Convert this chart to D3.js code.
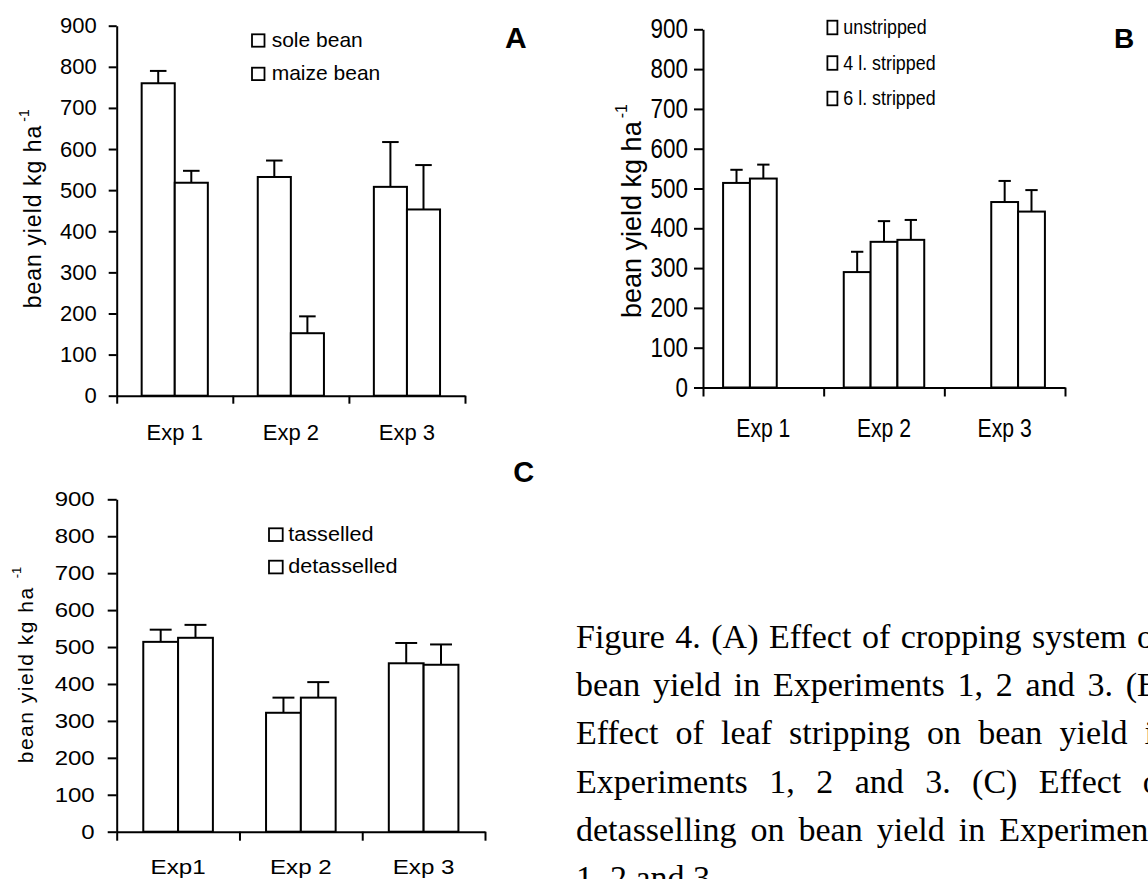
<!DOCTYPE html>
<html>
<head>
<meta charset="utf-8">
<script src="https://cdn.jsdelivr.net/npm/d3@7"></script>
<style>
  html, body { margin: 0; padding: 0; background: #fff; }
  svg { display: block; }
  text { font-family: "Liberation Sans", Arial, sans-serif; fill: #000; }
  .cap { font-family: "Liberation Serif", "Times New Roman", serif; }
</style>
</head>
<body>
<script>
// ---------------- DATA ----------------
const yTicks = [0, 100, 200, 300, 400, 500, 600, 700, 800, 900];

// Panel A: cropping system
const categoriesA = ["Exp 1", "Exp 2", "Exp 3"];
const seriesA = ["sole bean", "maize bean"];
const soleBean = [760, 532, 508];
const soleBeanErr = [30, 40, 109];
const maizeBean = [518, 152, 453];
const maizeBeanErr = [29, 41, 108];

// Panel B: leaf stripping
const categoriesB = ["Exp 1", "Exp 2", "Exp 3"];
const seriesB = ["unstripped", "4 l. stripped", "6 l. stripped"];
const unstripped = [514, 290, null];
const unstrippedErr = [33, 51, null];
const stripped4 = [525, 366, 466];
const stripped4Err = [35, 52, 53];
const stripped6 = [null, 371, 442];
const stripped6Err = [null, 50, 54];

// Panel C: detasselling
const categoriesC = ["Exp1", "Exp 2", "Exp 3"];
const seriesC = ["tasselled", "detasselled"];
const tasselled = [514, 322, 456];
const tasselledErr = [33, 41, 55];
const detasselled = [525, 363, 452];
const detasselledErr = [35, 42, 55];

const yLabel = "bean yield kg ha";
const yLabelSup = "-1";

const captionLines = [
  "Figure 4. (A) Effect of cropping system on",
  "bean yield in Experiments 1, 2 and 3. (B)",
  "Effect of leaf stripping on bean yield in",
  "Experiments 1, 2 and 3. (C) Effect of",
  "detasselling on bean yield in Experiments",
  "1, 2 and 3."
];

// ---------------- LAYOUT ----------------
const W = 1148, H = 879;
const svg = d3.select("body").append("svg").attr("width", W).attr("height", H);

function fit(sel, factor) {
  sel.each(function () {
    const w = this.getComputedTextLength();
    this.setAttribute("textLength", (w * factor).toFixed(2));
    this.setAttribute("lengthAdjust", "spacingAndGlyphs");
  });
}

function panel(cfg) {
  const g = svg.append("g");
  const x0 = d3.scaleBand().domain(cfg.categories).range(cfg.xRange).padding(0);
  const y = d3.scaleLinear().domain([0, 900]).range(cfg.yRange);
  const groupW = x0.bandwidth() * cfg.groupFrac;
  const x1 = d3.scaleBand().domain(cfg.series).range([0, groupW]).padding(0);

  // bars
  cfg.series.forEach((s, si) => {
    const vals = cfg.values[si], errs = cfg.errors[si];
    cfg.categories.forEach((c, ci) => {
      const v = vals[ci];
      if (v == null) return;
      const bx = x0(c) + (x0.bandwidth() - groupW) / 2 + x1(s);
      g.append("rect")
        .attr("x", bx).attr("y", y(v))
        .attr("width", x1.bandwidth()).attr("height", y(0) - y(v))
        .attr("fill", "#fff").attr("stroke", "#000").attr("stroke-width", 2);
      const e = errs[ci];
      const cx = bx + x1.bandwidth() / 2;
      const capW = x1.bandwidth() * cfg.capFrac;
      g.append("line").attr("x1", cx).attr("x2", cx)
        .attr("y1", y(v)).attr("y2", y(v + e))
        .attr("stroke", "#000").attr("stroke-width", 2);
      g.append("line").attr("x1", cx - capW / 2).attr("x2", cx + capW / 2)
        .attr("y1", y(v + e)).attr("y2", y(v + e))
        .attr("stroke", "#000").attr("stroke-width", 2);
    });
  });

  // y axis
  const ya = g.append("g").attr("transform", `translate(${cfg.xRange[0]},0)`)
    .call(d3.axisLeft(y).tickValues(yTicks).tickSize(cfg.tickSize).tickSizeOuter(0).tickPadding(cfg.tickPad));
  ya.selectAll("path,line").attr("stroke", "#000").attr("stroke-width", 2);
  ya.selectAll("text").attr("font-size", cfg.tickFont).style("font-family", "Liberation Sans, Arial, sans-serif").attr("fill", "#000");
  fit(ya.selectAll("text"), cfg.tickStretch);

  // x axis with boundary ticks
  const xb = d3.scaleLinear().domain([0, cfg.categories.length]).range(cfg.xRange);
  const xa = g.append("g").attr("transform", `translate(0,${cfg.yRange[0]})`)
    .call(d3.axisBottom(xb).ticks(cfg.categories.length).tickSize(cfg.tickSize).tickSizeOuter(0).tickFormat(""));
  xa.selectAll("path,line").attr("stroke", "#000").attr("stroke-width", 2);

  // category labels
  const xl = g.selectAll(".xl").data(cfg.categories).enter().append("text")
    .attr("x", d => x0(d) + x0.bandwidth() / 2)
    .attr("y", cfg.yRange[0] + cfg.xLabelOffset)
    .attr("text-anchor", "middle")
    .attr("font-size", cfg.xFont)
    .text(d => d);
  fit(xl, cfg.xStretch);

  // y label
  const yl = g.append("text")
    .attr("transform", `translate(${cfg.yLabelPos[0]},${cfg.yLabelPos[1]}) rotate(-90)`)
    .attr("font-size", cfg.yLabelFont)
    .attr("letter-spacing", cfg.yLabelSpacing);
  yl.append("tspan").text(yLabel);
  yl.append("tspan").attr("font-size", cfg.supFont).attr("dx", cfg.supDx).attr("dy", cfg.supDy).attr("letter-spacing", 0).text(yLabelSup);

  // legend
  cfg.series.forEach((s, i) => {
    const ly = cfg.legend.y + i * cfg.legend.step;
    g.append("rect").attr("x", cfg.legend.x).attr("y", ly)
      .attr("width", cfg.legend.w).attr("height", cfg.legend.h)
      .attr("fill", "#fff").attr("stroke", "#000").attr("stroke-width", 1.8);
    const t = g.append("text").attr("x", cfg.legend.tx).attr("y", ly + cfg.legend.h)
      .attr("font-size", cfg.legend.font).text(s);
    fit(t, cfg.legend.stretch);
  });

  // panel letter
  g.append("text").attr("x", cfg.letter.x).attr("y", cfg.letter.y)
    .attr("font-size", cfg.letter.font).attr("font-weight", "bold").text(cfg.letter.t);
}

panel({
  categories: categoriesA, series: seriesA,
  values: [soleBean, maizeBean], errors: [soleBeanErr, maizeBeanErr],
  xRange: [116.7, 465], yRange: [395.7, 25.7], groupFrac: 0.57, capFrac: 0.5,
  tickSize: 8, tickPad: 12, tickFont: 22, tickStretch: 1.0,
  xLabelOffset: 44.5, xFont: 22, xStretch: 1.0,
  yLabelPos: [40.7, 308.3], yLabelFont: 23, yLabelSpacing: 1, supFont: 14, supDx: 3, supDy: -12,
  legend: { x: 252, y: 34.3, w: 12.5, h: 12.4, step: 33.4, tx: 271.7, font: 21, stretch: 1.0 },
  letter: { x: 505, y: 48.3, font: 30, t: "A" }
});

panel({
  categories: categoriesB, series: seriesB,
  values: [unstripped, stripped4, stripped6], errors: [unstrippedErr, stripped4Err, stripped6Err],
  xRange: [703, 1065], yRange: [387.5, 29.3], groupFrac: 0.667, capFrac: 0.46,
  tickSize: 9, tickPad: 6, tickFont: 27, tickStretch: 0.83,
  xLabelOffset: 49.3, xFont: 25.5, xStretch: 0.83,
  yLabelPos: [641, 318], yLabelFont: 27, yLabelSpacing: 0, supFont: 16, supDx: 3, supDy: -14,
  legend: { x: 827.4, y: 20.7, w: 10, h: 13.6, step: 35.5, tx: 843.3, font: 21, stretch: 0.85 },
  letter: { x: 1114, y: 48.3, font: 28, t: "B" }
});

panel({
  categories: categoriesC, series: seriesC,
  values: [tasselled, detasselled], errors: [tasselledErr, detasselledErr],
  xRange: [116.7, 485], yRange: [831.7, 499.3], groupFrac: 0.567, capFrac: 0.63,
  tickSize: 9, tickPad: 13, tickFont: 20, tickStretch: 1.2,
  xLabelOffset: 42.3, xFont: 21, xStretch: 1.15,
  yLabelPos: [33.3, 763.3], yLabelFont: 21, yLabelSpacing: 1.5, supFont: 13, supDx: 8, supDy: -12,
  legend: { x: 269, y: 528.3, w: 13.7, h: 12.7, step: 32.4, tx: 288.3, font: 20, stretch: 1.08 },
  letter: { x: 513.3, y: 481.5, font: 29, t: "C" }
});

// ---------------- CAPTION ----------------
const capLeft = 576, capRight = 1171, capTop = 648, capStep = 48.2;
captionLines.forEach((line, i) => {
  const t = svg.append("text").attr("class", "cap")
    .attr("x", capLeft).attr("y", capTop + i * capStep)
    .attr("font-size", 34).text(line);
  if (i < captionLines.length - 1) {
    const nat = t.node().getComputedTextLength();
    const spaces = (line.match(/ /g) || []).length;
    const extra = (capRight - capLeft - nat) / spaces;
    t.attr("word-spacing", extra.toFixed(2));
  }
});
</script>
</body>
</html>
